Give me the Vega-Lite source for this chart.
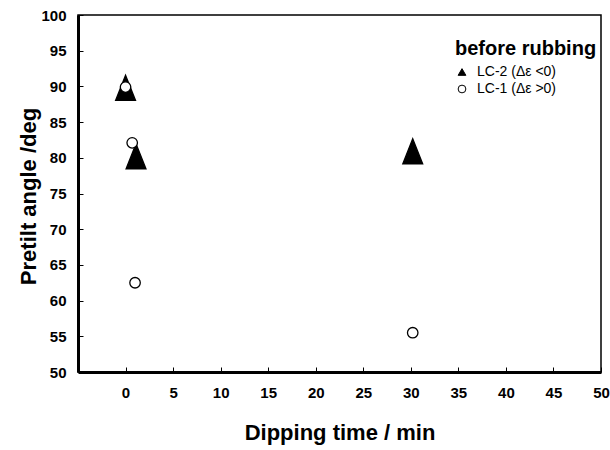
{
  "$schema": "https://vega.github.io/schema/vega-lite/v6.json",
  "width": 523,
  "height": 357,
  "autosize": {"type": "none"},
  "padding": {"left": 78, "top": 15, "right": 9, "bottom": 78},
  "background": "white",
  "config": {
    "font": "Liberation Sans",
    "view": {"stroke": "black", "strokeWidth": 1.5},
    "axis": {
      "domainColor": "black",
      "domainWidth": 3,
      "tickColor": "black",
      "tickWidth": 1,
      "tickSize": -5,
      "grid": false,
      "labelFont": "Liberation Sans",
      "labelFontWeight": "bold",
      "labelFontSize": 15,
      "labelColor": "black",
      "titleFont": "Liberation Sans",
      "titleFontWeight": "bold",
      "titleFontSize": 22,
      "titleColor": "black"
    },
    "legend": {
      "orient": "none",
      "legendX": 377,
      "legendY": 24,
      "titleFontSize": 20,
      "titleFontWeight": "bold",
      "titleColor": "black",
      "titleFont": "Liberation Sans",
      "titlePadding": 6,
      "labelFontSize": 14,
      "labelColor": "black",
      "labelFont": "Liberation Sans",
      "labelOffset": 8,
      "symbolSize": 60,
      "symbolOpacity": 1,
      "symbolStrokeWidth": 1,
      "rowPadding": 3,
      "padding": 0,
      "offset": 0
    }
  },
  "data": {
    "values": [
      {"series": "LC-2  (Δε <0)", "time": 0, "angle": 89.8},
      {"series": "LC-2  (Δε <0)", "time": 1.1, "angle": 80.2},
      {"series": "LC-2  (Δε <0)", "time": 30.2, "angle": 80.9},
      {"series": "LC-1  (Δε >0)", "time": 0, "angle": 89.9},
      {"series": "LC-1  (Δε >0)", "time": 0.7, "angle": 82.1},
      {"series": "LC-1  (Δε >0)", "time": 1.0, "angle": 62.5},
      {"series": "LC-1  (Δε >0)", "time": 30.2, "angle": 55.5}
    ]
  },
  "encoding": {
    "x": {
      "field": "time",
      "type": "quantitative",
      "title": "Dipping time / min",
      "scale": {"domain": [-5, 50], "nice": false, "zero": false},
      "axis": {"values": [0, 5, 10, 15, 20, 25, 30, 35, 40, 45, 50], "labelPadding": 18, "titlePadding": 22, "labelFlush": false}
    },
    "y": {
      "field": "angle",
      "type": "quantitative",
      "title": "Pretilt angle /deg",
      "scale": {"domain": [50, 100], "nice": false, "zero": false},
      "axis": {"values": [50, 55, 60, 65, 70, 75, 80, 85, 90, 95, 100], "labelPadding": 17, "titlePadding": 0, "titleY": 181, "titleAlign": "center", "labelFlush": false}
    }
  },
  "layer": [
    {
      "mark": {"type": "point", "filled": false, "stroke": "black", "strokeWidth": 1.3, "opacity": 0, "size": 60},
      "encoding": {
        "shape": {
          "field": "series",
          "type": "nominal",
          "title": "before rubbing",
          "scale": {"domain": ["LC-2  (Δε <0)", "LC-1  (Δε >0)"], "range": ["triangle-up", "circle"]}
        },
        "fill": {
          "field": "series",
          "type": "nominal",
          "title": "before rubbing",
          "scale": {"domain": ["LC-2  (Δε <0)", "LC-1  (Δε >0)"], "range": ["black", "white"]}
        }
      }
    },
    {
      "mark": {"type": "point", "filled": false, "stroke": "black", "strokeWidth": 1.3, "opacity": 1, "size": 110},
      "encoding": {
        "shape": {
          "field": "series",
          "type": "nominal",
          "legend": null,
          "scale": {"domain": ["LC-2  (Δε <0)", "LC-1  (Δε >0)"], "range": ["M-1.9,2.4L0,-2.4L1.9,2.4Z", "circle"]}
        },
        "fill": {
          "field": "series",
          "type": "nominal",
          "legend": null,
          "scale": {"domain": ["LC-2  (Δε <0)", "LC-1  (Δε >0)"], "range": ["black", "white"]}
        }
      }
    }
  ],
  "resolve": {"scale": {"shape": "independent", "fill": "independent"}, "legend": {"shape": "independent", "fill": "independent"}}
}
